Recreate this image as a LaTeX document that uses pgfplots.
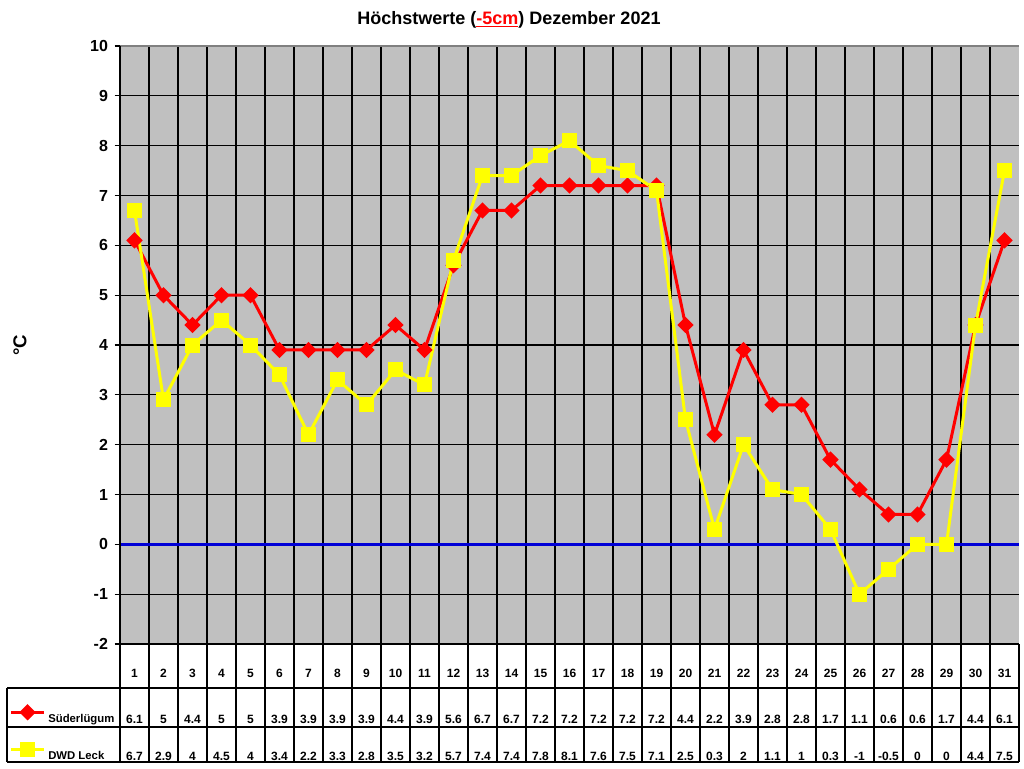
\documentclass[border=0pt]{standalone}
\usepackage{pgfplots}
\pgfplotsset{compat=1.18}
\usepackage{pgfplotstable}
\usepackage{fontspec}
\setmainfont{Liberation Sans}
\definecolor{plotgrey}{RGB}{192,192,192}
\definecolor{sred}{RGB}{255,0,0}
\definecolor{dyel}{RGB}{255,255,0}
\definecolor{zblue}{RGB}{0,0,215}
\pgfplotstableread{
day S D
1 6.1 6.7
2 5 2.9
3 4.4 4
4 5 4.5
5 5 4
6 3.9 3.4
7 3.9 2.2
8 3.9 3.3
9 3.9 2.8
10 4.4 3.5
11 3.9 3.2
12 5.6 5.7
13 6.7 7.4
14 6.7 7.4
15 7.2 7.8
16 7.2 8.1
17 7.2 7.6
18 7.2 7.5
19 7.2 7.1
20 4.4 2.5
21 2.2 0.3
22 3.9 2
23 2.8 1.1
24 2.8 1
25 1.7 0.3
26 1.1 -1
27 0.6 -0.5
28 0.6 0
29 1.7 0
30 4.4 4.4
31 6.1 7.5
}\data
\begin{document}
\begin{tikzpicture}
\path[use as bounding box] (0,0) rectangle (768pt,-576pt);
\begin{axis}[
 at={(90pt,-483pt)}, anchor=south west,
 scale only axis, width=674.25pt, height=448.5pt,
 xmin=0.5, xmax=31.5, ymin=-2, ymax=10,
 ytick={-2,-1,...,10},
 ytick pos=left,
 xtick={1.5,2.5,...,30.5},
 xticklabels={},
 xtick style={draw=none},
 xmajorgrids=true, ymajorgrids=true,
 grid style={black, line width=0.9pt},
 axis background/.style={fill=plotgrey},
 axis line style={draw=none},
 tick align=outside,
 major tick length=4pt,
 ytick style={black, line width=0.9pt},
 yticklabel style={font=\bfseries\fontsize{12}{12}\selectfont, xshift=-1.5pt},
 /pgf/number format/assume math mode=true,
 legend image code/.code={\draw[#1, mark repeat=2, mark phase=2] plot coordinates {(0pt,0pt)(12.375pt,0pt)(24.75pt,0pt)};},
 legend style={at={(axis description cs:-0.1231,-0.0992)}, anchor=north west, draw=none, fill=none, inner sep=0pt,
   row sep=14.75pt, column sep=0pt, legend cell align=left,
   font=\bfseries\fontsize{8.5}{9}\selectfont,
   nodes={inner sep=2pt, text height=7pt, text depth=2pt}},
]
\addplot[zblue, line width=2.25pt, forget plot] coordinates {(0.5,0) (31.5,0)};
\addplot[sred, line width=2.25pt, mark=square*, mark size=3.2pt, mark options={rotate=45, solid, fill=sred, draw=sred}] table[x=day, y=S] {\data};
\addlegendentry{\raisebox{-5pt}{Süderlügum}}
\addplot[dyel, line width=2.25pt, mark=square*, mark size=4.5pt, mark options={solid, fill=dyel, draw=dyel}] table[x=day, y=D] {\data};
\addlegendentry{\raisebox{-5pt}{DWD Leck}}
\end{axis}
\begin{scope}[x=0.75pt, y=-0.75pt]
\draw[black!50, line width=0.9pt] (120,46)--(1019,46);
\draw[black, line width=0.9pt] (120,46)--(120,762);
\draw[black, line width=0.9pt] (120,644)--(1019,644);
\draw[black, line width=0.9pt] (7,688)--(1019,688);
\draw[black, line width=0.9pt] (7,727)--(1019,727);
\draw[black, line width=0.9pt] (7,762)--(1019,762);
\draw[black, line width=0.9pt] (7,688)--(7,762);
\foreach \k in {1,...,31} {\draw[black, line width=0.9pt] ({120+29*\k},644)--({120+29*\k},762);}
\foreach \i/\s/\d in {1/6.1/6.7,2/5/2.9,3/4.4/4,4/5/4.5,5/5/4,6/3.9/3.4,7/3.9/2.2,8/3.9/3.3,9/3.9/2.8,10/4.4/3.5,11/3.9/3.2,12/5.6/5.7,13/6.7/7.4,14/6.7/7.4,15/7.2/7.8,16/7.2/8.1,17/7.2/7.6,18/7.2/7.5,19/7.2/7.1,20/4.4/2.5,21/2.2/0.3,22/3.9/2,23/2.8/1.1,24/2.8/1,25/1.7/0.3,26/1.1/-1,27/0.6/-0.5,28/0.6/0,29/1.7/0,30/4.4/4.4,31/6.1/7.5}{
  \node[font=\bfseries\fontsize{9}{9}\selectfont] at ({120+29*(\i-0.5)},673) {\i};
  \node[font=\bfseries\fontsize{9}{9}\selectfont] at ({120+29*(\i-0.5)},719) {\s};
  \node[font=\bfseries\fontsize{9}{9}\selectfont] at ({120+29*(\i-0.5)},756) {\d};
}
\node[rotate=90, font=\bfseries\fontsize{14}{14}\selectfont] at (20,345) {°C};
\node[font=\bfseries\fontsize{13.5}{13.5}\selectfont] at (509,20) {Höchstwerte (\textcolor{sred}{\underline{-5cm}}) Dezember 2021};
\end{scope}
\end{tikzpicture}
\end{document}
